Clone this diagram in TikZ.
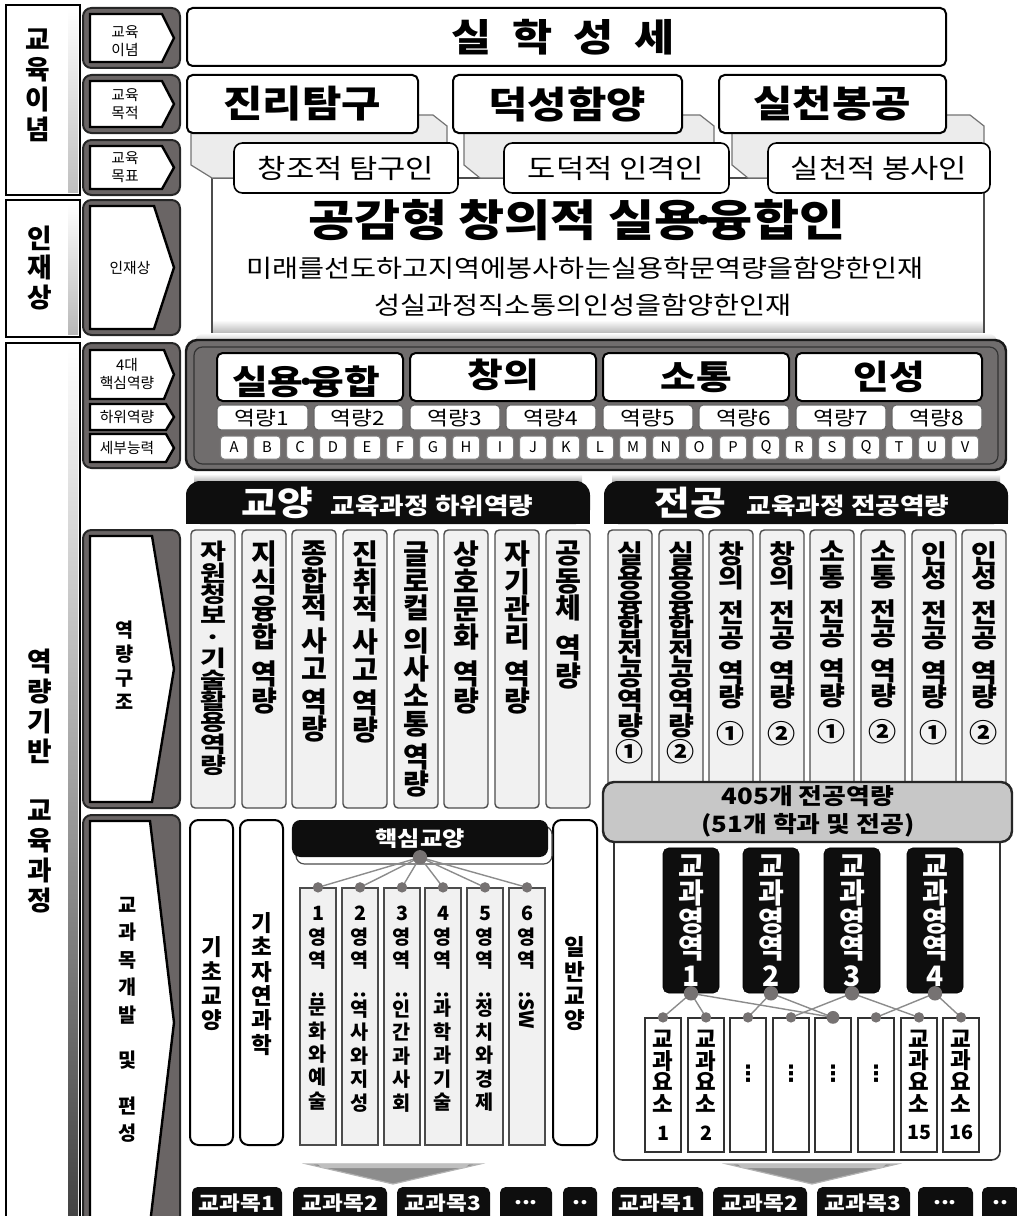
\documentclass[tikz,border=0pt]{standalone}
\usepackage{fontspec}
\usepackage{graphicx}
\setmainfont{Noto Sans CJK KR}
\newfontfamily\widekr[FakeStretch=1.15]{Noto Sans CJK KR}
\newfontfamily\symfont{DejaVu Sans}
\usetikzlibrary{calc}

\definecolor{tagdark}{RGB}{106,101,101}
\definecolor{coredark}{RGB}{112,109,109}
\definecolor{colgray}{RGB}{241,241,241}
\definecolor{tabgray}{RGB}{236,236,236}
\definecolor{dotgray}{RGB}{118,114,114}
\definecolor{nearblack}{RGB}{14,14,14}

\def\fsz#1#2{\fontsize{#1}{#2}\selectfont}
\def\ndot{\kern-0.28em·\kern-0.28em}
% white arrow inside a dark tag: (x1,y1)(x2,y2){notch}
\def\tagarrow(#1,#2)(#3,#4)#5{\draw[tagpent] (#1,#2) -- ({#3-#5},#2) -- (#3,{(#2+#4)/2}) -- ({#3-#5},#4) -- (#1,#4) -- cycle;}
\def\tagbox(#1,#2)(#3,#4)#5{\draw[tagbg] (#1,#2) rectangle (#3,#4); \tagarrow(#1+7,#2+6)(#3-6,#4-6){#5}}
% vertical dots lifted a little inside a box
\def\updots{\raisebox{0pt}[\height][\dimexpr\depth+16pt]{\symfont\bfseries ⋮}}

\tikzset{
  tagbg/.style={fill=tagdark, draw=black!85, line width=0.5mm, rounded corners=6pt},
  tagpent/.style={fill=white, draw=black, line width=0.6mm},
  tagtext/.style={align=center, inner sep=0pt, font=\fsz{10.5}{12.5}},
  tagvert/.style={align=center, inner sep=0pt, font=\bfseries\fsz{14}{17}},
  sidebox/.style={draw=black, line width=0.6mm},
  bigv/.style={align=center, inner sep=0pt, font=\bfseries\fsz{19}{21.3}},
  goalbox/.style={fill=white, draw=black, line width=0.5mm, rounded corners=4pt},
  manbox/.style={fill=white, draw=black, line width=0.4mm, rounded corners=6pt},
  tabshape/.style={fill=tabgray, draw=black!55, line width=0.3mm},
  smallbox/.style={fill=white, draw=black!60, line width=0.3mm, rounded corners=3pt},
  lbox/.style={fill=white, draw=black!50, line width=0.25mm, rounded corners=2.5pt, minimum width=0.675cm, minimum height=0.575cm, inner sep=0pt, font=\fsz{10.5}{12}},
  colbox/.style={fill=colgray, draw=black!70, line width=0.35mm, rounded corners=3pt},
  colv/.style={anchor=north, align=center, inner sep=0pt, font=\bfseries\fsz{20}{19.5}},
  majv/.style={anchor=north, align=center, inner sep=0pt, font=\bfseries\fsz{20}{19}, yscale=0.92, transform shape},
  wtall/.style={fill=white, draw=black, line width=0.5mm, rounded corners=6pt},
  tallv/.style={align=center, inner sep=0pt, font=\bfseries\fsz{16}{17.3}},
  czbox/.style={fill=colgray, draw=black!70, line width=0.3mm, minimum width=0.9cm, minimum height=6.425cm, inner sep=0pt},
  czv/.style={anchor=north, align=center, inner sep=0pt, font=\bfseries\fsz{14}{16.7}},
  arbox/.style={fill=nearblack, draw=black, rounded corners=4pt, minimum width=1.4cm, minimum height=3.625cm, inner sep=0pt, align=center, text=white, font=\bfseries\fsz{20}{19.5}},
  elbox/.style={fill=white, draw=black!80, line width=0.3mm, minimum width=0.9cm, minimum height=3.35cm, inner sep=0pt, align=center, font=\bfseries\fsz{16}{15.5}},
  link/.style={draw=black!45, line width=0.35mm},
  dotbig/.style={circle, fill=dotgray, inner sep=0pt, minimum size=0.36cm},
  dotsmall/.style={circle, fill=dotgray, inner sep=0pt, minimum size=0.26cm},
  subjtext/.style={inner sep=0pt, text=white, font=\widekr\bfseries\fsz{14}{14}},
  bigarrow/.style={fill=black!45, draw=black!30, line width=0.3mm}
}

\begin{document}
\begin{tikzpicture}[x=0.025cm, y=-0.025cm]
		\useasboundingbox (0,0) rectangle (1017,1216);
		%%%%% START %%%%%
		
		% left side column
		\fill[white] (6,5) rectangle (80,195);
		\shade[top color=white, bottom color=black!25] (68,8) rectangle (78,192);
		\draw[sidebox] (6,5) rectangle (80,195);
		\node[bigv] (l-ideal) at (38,85) {교\\육\\이\\념};
		
		\fill[white] (6,200) rectangle (80,337);
		\shade[top color=white, bottom color=black!28] (68,203) rectangle (78,334);
		\draw[sidebox] (6,200) rectangle (80,337);
		\node[bigv] (l-talent) at (40,268) {인\\재\\상};
		
		\fill[white] (6,343) rectangle (80,1230);
		\shade[top color=white, bottom color=black!75] (68,346) rectangle (78,1230);
		\draw[sidebox] (6,343) rectangle (80,1230);
		\node[bigv] (l-comp) at (40,781) {역\\량\\기\\반\\[21pt]교\\육\\과\\정};
		
		% tag column
		\tagbox(83,8)(180,68){12}
		\node[tagtext] (t-ideal) at (125,41) {교육\\이념};
		\tagbox(83,75)(180,133){12}
		\node[tagtext] (t-purpose) at (125,104) {교육\\목적};
		\tagbox(83,140)(180,195){12}
		\node[tagtext] (t-goal) at (125,167) {교육\\목표};
		\tagbox(83,200)(180,335){20}
		\node[tagtext] (t-talent) at (130,268) {인재상};
		
		\draw[tagbg] (83,343) rectangle (180,468);
		\tagarrow(90,350)(174,399){10}
		\tagarrow(90,404)(174,430){8}
		\tagarrow(90,434)(174,462){8}
		\node[tagtext] (t-core) at (127,374) {4대\\핵심역량};
		\node[tagtext] (t-sub) at (127,417) {하위역량};
		\node[tagtext] (t-detail) at (127,448) {세부능력};
		
		\tagbox(83,530)(180,808){22}
		\node[tagvert] (t-struct) at (125,665) {역\\량\\구\\조};
		\tagbox(83,815)(180,1230){24}
		\node[tagvert, font=\bfseries\fsz{14}{19.5}] (t-dev) at (128,1020) {교\\과\\목\\개\\발\\[13pt]및\\[13pt]편\\성};
		
		% motto
		\draw[goalbox] (187,8) rectangle (946,66);
		\node[font=\widekr\bfseries\fsz{27}{27}] (motto) at (563,37) {실\hspace{15pt}학\hspace{15pt}성\hspace{15pt}세};
		
		% ideal person panel and tabs
		\fill[white] (212,178) rectangle (984,335);
		\shade[top color=white, bottom color=black!30] (213,320) rectangle (983,334);
		\draw[black!70, line width=0.35mm] (212,178) rectangle (984,335);
		\draw[tabshape] (191,115) -- (433,115) -- (447,126) -- (447,178) -- (212,178) -- (191,165) -- cycle;
		\draw[tabshape] (464,115) -- (700,115) -- (714,126) -- (714,178) -- (480,178) -- (464,165) -- cycle;
		\draw[tabshape] (732,115) -- (970,115) -- (984,126) -- (984,178) -- (748,178) -- (732,165) -- cycle;
		
		\draw[goalbox] (187,75) rectangle (418,133);
		\draw[goalbox] (453,75) rectangle (682,133);
		\draw[goalbox] (719,75) rectangle (946,133);
		\node[font=\widekr\bfseries\fsz{26.5}{27}] (g-truth) at (302,104) {진리탐구};
		\node[font=\widekr\bfseries\fsz{26.5}{27}] (g-virtue) at (567,104) {덕성함양};
		\node[font=\widekr\bfseries\fsz{26.5}{27}] (g-serve) at (832,104) {실천봉공};
		
		\draw[manbox] (234,143) rectangle (458,193);
		\draw[manbox] (504,143) rectangle (729,193);
		\draw[manbox] (768,143) rectangle (990,193);
		\node[font=\widekr\fsz{19}{19}] (h-inquiry) at (346,168) {창조적 탐구인};
		\node[font=\widekr\fsz{19}{19}] (h-moral) at (616,168) {도덕적 인격인};
		\node[font=\widekr\fsz{19}{19}] (h-service) at (879,168) {실천적 봉사인};
		
		\node[font=\widekr\bfseries\fsz{31}{31}] (p-main) at (577,220) {공감형 창의적 실용\ndot 융합인};
		\node[font=\widekr\fsz{17.5}{17.5}] (p-line1) at (585,268) {미래를선도하고지역에봉사하는실용학문역량을함양한인재};
		\node[font=\widekr\fsz{17.5}{17.5}] (p-line2) at (583,305) {성실과정직소통의인성을함양한인재};
		
		% core competency panel
		\shade[top color=white, bottom color=black!45, rounded corners=8pt] (194,333) rectangle (998,350);
		\draw[fill=coredark, draw=black!90, line width=0.6mm, rounded corners=8pt] (186,340) rectangle (1006,470);
		\draw[black!80, line width=0.3mm, rounded corners=6pt] (194,347) rectangle (998,464);
		
		\draw[goalbox] (217,353) rectangle (403,401);
		\draw[goalbox] (410,353) rectangle (596,401);
		\draw[goalbox] (603,353) rectangle (789,401);
		\draw[goalbox] (796,353) rectangle (982,401);
		\node[font=\widekr\bfseries\fsz{24}{24}] (c-apply) at (306,382) {실용\ndot 융합};
		\node[font=\widekr\bfseries\fsz{24}{24}] (c-create) at (503,375) {창의};
		\node[font=\widekr\bfseries\fsz{24}{24}] (c-comm) at (696,377) {소통};
		\node[font=\widekr\bfseries\fsz{24}{24}] (c-char) at (889,377) {인성};
		
		\draw[smallbox] (217,405) rectangle (308,430);
		\draw[smallbox] (314,405) rectangle (403,430);
		\draw[smallbox] (410,405) rectangle (500,430);
		\draw[smallbox] (506,405) rectangle (596,430);
		\draw[smallbox] (603,405) rectangle (693,430);
		\draw[smallbox] (699,405) rectangle (789,430);
		\draw[smallbox] (796,405) rectangle (886,430);
		\draw[smallbox] (892,405) rectangle (982,430);
		\node[font=\widekr\fsz{14}{14}] (s1) at (262,418) {역량1};
		\node[font=\widekr\fsz{14}{14}] (s2) at (358,418) {역량2};
		\node[font=\widekr\fsz{14}{14}] (s3) at (455,418) {역량3};
		\node[font=\widekr\fsz{14}{14}] (s4) at (551,418) {역량4};
		\node[font=\widekr\fsz{14}{14}] (s5) at (648,418) {역량5};
		\node[font=\widekr\fsz{14}{14}] (s6) at (744,418) {역량6};
		\node[font=\widekr\fsz{14}{14}] (s7) at (841,418) {역량7};
		\node[font=\widekr\fsz{14}{14}] (s8) at (937,418) {역량8};
		
		\node[lbox] (a-A) at (234,447.5) {A};
		\node[lbox] (a-B) at (267,447.5) {B};
		\node[lbox] (a-C) at (300,447.5) {C};
		\node[lbox] (a-D) at (333,447.5) {D};
		\node[lbox] (a-E) at (367,447.5) {E};
		\node[lbox] (a-F) at (400,447.5) {F};
		\node[lbox] (a-G) at (433,447.5) {G};
		\node[lbox] (a-H) at (466,447.5) {H};
		\node[lbox] (a-I) at (500,447.5) {I};
		\node[lbox] (a-J) at (533,447.5) {J};
		\node[lbox] (a-K) at (566,447.5) {K};
		\node[lbox] (a-L) at (600,447.5) {L};
		\node[lbox] (a-M) at (633,447.5) {M};
		\node[lbox] (a-N) at (666,447.5) {N};
		\node[lbox] (a-O) at (699,447.5) {O};
		\node[lbox] (a-P) at (733,447.5) {P};
		\node[lbox] (a-Q) at (766,447.5) {Q};
		\node[lbox] (a-R) at (799,447.5) {R};
		\node[lbox] (a-S) at (832,447.5) {S};
		\node[lbox] (a-Q2) at (866,447.5) {Q};
		\node[lbox] (a-T) at (899,447.5) {T};
		\node[lbox] (a-U) at (932,447.5) {U};
		\node[lbox] (a-V) at (965,447.5) {V};
		
		% headers
		\shade[top color=white, bottom color=black!35] (194,474) rectangle (582,483);
		\shade[top color=white, bottom color=black!35] (612,474) rectangle (1000,483);
		\fill[nearblack, rounded corners=10pt] (186,481) rectangle (590,524);
		\fill[nearblack] (186,505) rectangle (590,524);
		\fill[nearblack, rounded corners=10pt] (604,481) rectangle (1008,524);
		\fill[nearblack] (604,505) rectangle (1008,524);
		\node[text=white, font=\widekr\bfseries\fsz{24}{24}] (h-gen) at (277,503) {교양};
		\node[text=white, font=\widekr\bfseries\fsz{16.5}{16.5}] (h-gensub) at (432,506) {교육과정 하위역량};
		\node[text=white, font=\widekr\bfseries\fsz{24}{24}] (h-maj) at (690,503) {전공};
		\node[text=white, font=\widekr\bfseries\fsz{16.5}{16.5}] (h-majsub) at (848,506) {교육과정 전공역량};
		
		% general education competencies
		\draw[colbox] (191,530) rectangle (235,808);
		\draw[colbox] (242,530) rectangle (286,808);
		\draw[colbox] (292,530) rectangle (336,808);
		\draw[colbox] (343,530) rectangle (387,808);
		\draw[colbox] (394,530) rectangle (438,808);
		\draw[colbox] (444,530) rectangle (488,808);
		\draw[colbox] (495,530) rectangle (539,808);
		\draw[colbox] (546,530) rectangle (590,808);
		\node[colv, yscale=0.78, transform shape] (ky1) at (213,541) {자\\원\\청\\보\\·\\기\\술\\활\\용\\역\\량};
		\node[colv] (ky2) at (264,541) {지\\식\\융\\합\\[7pt]역\\량};
		\node[colv] (ky3) at (314,541) {종\\합\\적\\[4pt]사\\고\\[4pt]역\\량};
		\node[colv] (ky4) at (365,541) {진\\취\\적\\[4pt]사\\고\\[4pt]역\\량};
		\node[colv] (ky5) at (416,541) {글\\로\\컬\\[4pt]의\\사\\소\\통\\[4pt]역\\량};
		\node[colv] (ky6) at (466,541) {상\\호\\문\\화\\[7pt]역\\량};
		\node[colv] (ky7) at (517,541) {자\\기\\관\\리\\[7pt]역\\량};
		\node[colv] (ky8) at (568,541) {공\\동\\체\\[9pt]역\\량};
		
		% major competencies
		\draw[colbox] (608,530) rectangle (652,800);
		\draw[colbox] (659,530) rectangle (703,800);
		\draw[colbox] (709,530) rectangle (753,800);
		\draw[colbox] (760,530) rectangle (804,800);
		\draw[colbox] (810,530) rectangle (854,800);
		\draw[colbox] (861,530) rectangle (905,800);
		\draw[colbox] (912,530) rectangle (956,800);
		\draw[colbox] (962,530) rectangle (1006,800);
		\node[majv] (jg1) at (630,541) {실\\용\\융\\합\\전\\공\\역\\량\\①};
		\node[majv] (jg2) at (681,541) {실\\용\\융\\합\\전\\공\\역\\량\\②};
		\node[majv] (jg3) at (731,541) {창\\의\\[8pt]전\\공\\[8pt]역\\량\\[8pt]①};
		\node[majv] (jg4) at (782,541) {창\\의\\[8pt]전\\공\\[8pt]역\\량\\[8pt]②};
		\node[majv] (jg5) at (832,541) {소\\통\\[8pt]전\\공\\[8pt]역\\량\\[8pt]①};
		\node[majv] (jg6) at (883,541) {소\\통\\[8pt]전\\공\\[8pt]역\\량\\[8pt]②};
		\node[majv] (jg7) at (934,541) {인\\성\\[8pt]전\\공\\[8pt]역\\량\\[8pt]①};
		\node[majv] (jg8) at (984,541) {인\\성\\[8pt]전\\공\\[8pt]역\\량\\[8pt]②};
		
		% major curriculum container
		\draw[fill=white, draw=black!80, line width=0.4mm, rounded corners=6pt] (614,830) rectangle (1000,1160);
		\draw[fill=black!22, draw=black!85, line width=0.6mm, rounded corners=8pt] (603,782) rectangle (1012,842);
		\node[align=center, font=\widekr\bfseries\fsz{16}{20}] (mj405) at (808,811) {405개 전공역량\\(51개 학과 및 전공)};
		
		\node[arbox] (ar1) at (691,920.5) {교\\과\\영\\역\\1};
		\node[arbox] (ar2) at (771,920.5) {교\\과\\영\\역\\2};
		\node[arbox] (ar3) at (852,920.5) {교\\과\\영\\역\\3};
		\node[arbox] (ar4) at (935,920.5) {교\\과\\영\\역\\4};
		
		\node[elbox] (el1) at (663,1085) {교\\과\\요\\소\\[4pt]{\fsz{14}{14}1}};
		\node[elbox] (el2) at (706,1085) {교\\과\\요\\소\\[4pt]{\fsz{14}{14}2}};
		\node[elbox] (el3) at (748,1085) {\updots};
		\node[elbox] (el4) at (791,1085) {\updots};
		\node[elbox] (el5) at (833,1085) {\updots};
		\node[elbox] (el6) at (876,1085) {\updots};
		\node[elbox] (el7) at (919,1085) {교\\과\\요\\소\\[4pt]{\fsz{14}{14}15}};
		\node[elbox] (el8) at (961,1085) {교\\과\\요\\소\\[4pt]{\fsz{14}{14}16}};
		
		\draw[link] (ar1.south) -- (el1.north);
		\draw[link] (ar1.south) -- (el2.north);
		\draw[link] (ar1.south) -- (el5.north);
		\draw[link] (ar2.south) -- (el3.north);
		\draw[link] (ar2.south) -- (el5.north);
		\draw[link] (ar3.south) -- (el4.north);
		\draw[link] (ar3.south) -- (el7.north);
		\draw[link] (ar4.south) -- (el6.north);
		\draw[link] (ar4.south) -- (el8.north);
		\node[dotbig] (dar1) at (ar1.south) {};
		\node[dotbig] (dar2) at (ar2.south) {};
		\node[dotbig] (dar3) at (ar3.south) {};
		\node[dotbig] (dar4) at (ar4.south) {};
		\node[dotsmall] (del1) at (el1.north) {};
		\node[dotsmall] (del2) at (el2.north) {};
		\node[dotsmall] (del3) at (el3.north) {};
		\node[dotsmall] (del4) at (el4.north) {};
		\node[dotsmall, minimum size=0.32cm] (del5) at (el5.north) {};
		\node[dotsmall] (del6) at (el6.north) {};
		\node[dotsmall] (del7) at (el7.north) {};
		\node[dotsmall] (del8) at (el8.north) {};
		
		% general curriculum
		\draw[wtall] (190,820) rectangle (233,1145);
		\node[tallv] (gc-basic) at (212,984) {기\\초\\교\\양};
		\draw[wtall] (240,820) rectangle (283,1145);
		\node[tallv] (gc-science) at (262,984) {기\\초\\자\\연\\과\\학};
		\draw[wtall] (553,820) rectangle (597,1145);
		\node[tallv] (gc-free) at (575,984) {일\\반\\교\\양};
		
		\draw[fill=white, draw=black!70, line width=0.3mm, rounded corners=6pt] (296,826) rectangle (552,864);
		\node[fill=nearblack, rounded corners=6pt, minimum width=6.4cm, minimum height=0.925cm, inner sep=0pt, text=white, font=\widekr\bfseries\fsz{15}{15}] (core) at (420,838.5) {핵심교양};
		
		\node[czbox] (cz1) at (318,1016.5) {};
		\node[czbox] (cz2) at (360,1016.5) {};
		\node[czbox] (cz3) at (402,1016.5) {};
		\node[czbox] (cz4) at (443,1016.5) {};
		\node[czbox] (cz5) at (485,1016.5) {};
		\node[czbox] (cz6) at (527,1016.5) {};
		\node[czv] (czt1) at (318,906) {1\\영\\역\\\rotatebox{-90}{:}\\문\\화\\와\\예\\술};
		\node[czv] (czt2) at (360,906) {2\\영\\역\\\rotatebox{-90}{:}\\역\\사\\와\\지\\성};
		\node[czv] (czt3) at (402,906) {3\\영\\역\\\rotatebox{-90}{:}\\인\\간\\과\\사\\회};
		\node[czv] (czt4) at (443,906) {4\\영\\역\\\rotatebox{-90}{:}\\과\\학\\과\\기\\술};
		\node[czv] (czt5) at (485,906) {5\\영\\역\\\rotatebox{-90}{:}\\정\\치\\와\\경\\제};
		\node[czv] (czt6) at (527,906) {6\\영\\역\\\rotatebox{-90}{:SW}};
		
		\draw[link] (core.south) -- (cz1.north);
		\draw[link] (core.south) -- (cz2.north);
		\draw[link] (core.south) -- (cz3.north);
		\draw[link] (core.south) -- (cz4.north);
		\draw[link] (core.south) -- (cz5.north);
		\draw[link] (core.south) -- (cz6.north);
		\node[dotbig] (dcore) at (core.south) {};
		\node[dotsmall] (dcz1) at (cz1.north) {};
		\node[dotsmall] (dcz2) at (cz2.north) {};
		\node[dotsmall] (dcz3) at (cz3.north) {};
		\node[dotsmall] (dcz4) at (cz4.north) {};
		\node[dotsmall] (dcz5) at (cz5.north) {};
		\node[dotsmall] (dcz6) at (cz6.north) {};
		
		% arrows down to subjects
		\draw[bigarrow] (307,1164) -- (480,1164) -- (393,1184) -- cycle;
		\fill[black!25] (318,1164) -- (469,1164) -- (465,1168) -- (322,1168) -- cycle;
		\draw[bigarrow] (727,1164) -- (897,1164) -- (812,1184) -- cycle;
		\fill[black!25] (738,1164) -- (886,1164) -- (882,1168) -- (742,1168) -- cycle;
		
		% subjects
		\fill[nearblack, rounded corners=4pt] (192,1187) rectangle (282,1225);
		\fill[nearblack, rounded corners=4pt] (293,1187) rectangle (387,1225);
		\fill[nearblack, rounded corners=4pt] (397,1187) rectangle (490,1225);
		\fill[nearblack, rounded corners=4pt] (500,1187) rectangle (552,1225);
		\fill[nearblack, rounded corners=4pt] (563,1187) rectangle (597,1225);
		\node[subjtext] (sb1) at (237,1203) {교과목1};
		\node[subjtext] (sb2) at (340,1203) {교과목2};
		\node[subjtext] (sb3) at (443,1203) {교과목3};
		\node[subjtext] (sb4) at (526,1203) {...};
		\node[subjtext] (sb5) at (580,1203) {..};
		
		\fill[nearblack, rounded corners=4pt] (612,1187) rectangle (703,1225);
		\fill[nearblack, rounded corners=4pt] (713,1187) rectangle (807,1225);
		\fill[nearblack, rounded corners=4pt] (817,1187) rectangle (910,1225);
		\fill[nearblack, rounded corners=4pt] (918,1187) rectangle (973,1225);
		\fill[nearblack, rounded corners=4pt] (982,1187) rectangle (1020,1225);
		\node[subjtext] (sm1) at (657,1203) {교과목1};
		\node[subjtext] (sm2) at (760,1203) {교과목2};
		\node[subjtext] (sm3) at (863,1203) {교과목3};
		\node[subjtext] (sm4) at (945,1203) {...};
		\node[subjtext] (sm5) at (1000,1203) {..};
		
		%%%%% END %%%%%
\end{tikzpicture}
\end{document}
